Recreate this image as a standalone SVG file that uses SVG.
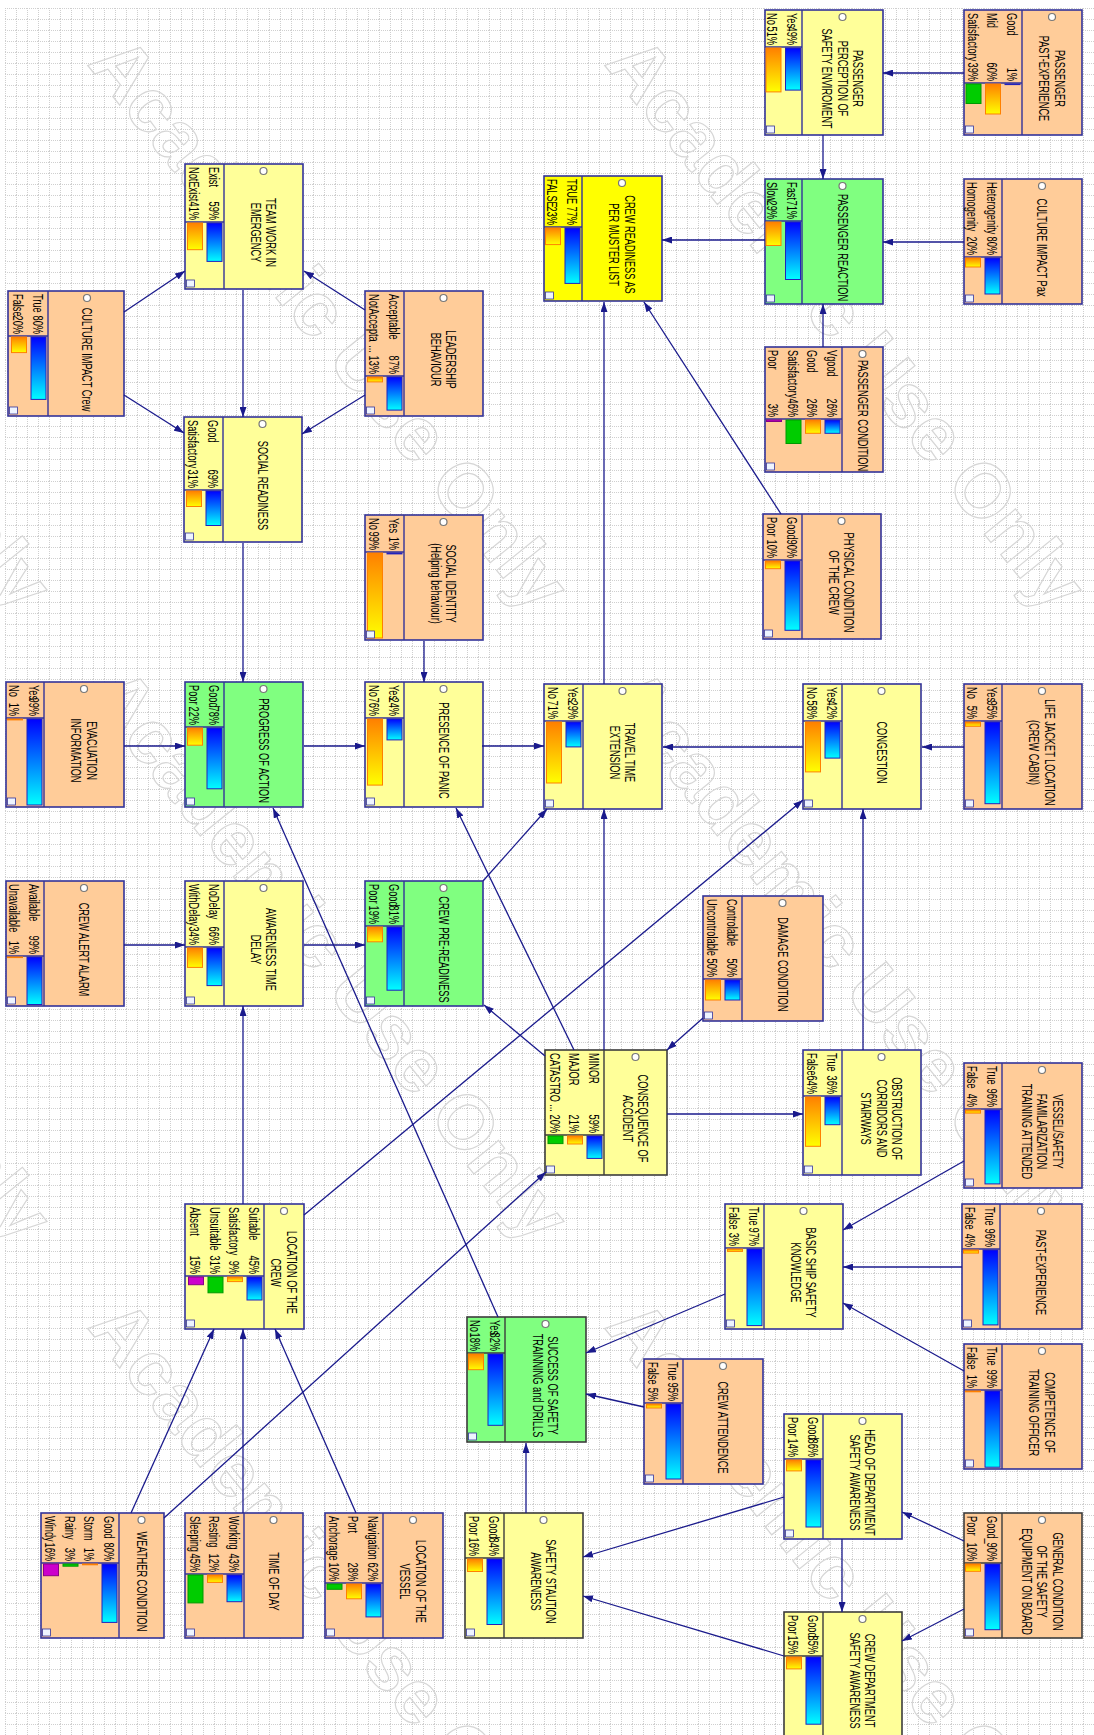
<svg xmlns="http://www.w3.org/2000/svg" width="1094" height="1735" viewBox="0 0 1094 1735">
<defs>
<style>
.box{stroke:#333399;stroke-width:1.6}
.dk{stroke:#3c3c3c}
.y{fill:#ffff99}.o{fill:#ffcc99}.g{fill:#80ff80}.b{fill:#ffff00}
.dv{fill:none;stroke:#333399;stroke-width:1.4}
.dvk{fill:none;stroke:#3c3c3c;stroke-width:1.4}
.t{font-family:"Liberation Sans",Arial,sans-serif;font-size:14px;fill:#000}
.m{text-anchor:middle}.e{text-anchor:end}
.pin{fill:#fff;stroke:#777;stroke-width:1.2}
.bb{fill:url(#gb);stroke:#2222bb;stroke-width:1}
.bo{fill:url(#go);stroke:#ff8000;stroke-width:1}
.bg{fill:#00cc00;stroke:#009900;stroke-width:1}
.bm{fill:#cc00cc;stroke:#880088;stroke-width:1}
.ic{fill:#eef4ff;stroke:#333399;stroke-width:.8}
.ed{fill:none;stroke:#1a1a8c;stroke-width:1.3;marker-end:url(#ah)}
.wm{font-family:"Liberation Sans",Arial,sans-serif;font-weight:bold;font-size:76px;fill:none;stroke:#d6d6d6;stroke-width:1.2}
</style>
<linearGradient id="gb" x1="0" y1="0" x2="0" y2="1"><stop offset="0" stop-color="#0000ff"/><stop offset="1" stop-color="#00ffff"/></linearGradient>
<linearGradient id="go" x1="0" y1="0" x2="0" y2="1"><stop offset="0" stop-color="#ff8000"/><stop offset="1" stop-color="#ffff00"/></linearGradient>
<pattern id="grid" x="5" y="8" width="11" height="11" patternUnits="userSpaceOnUse"><path d="M0,0.5H11M0.5,0V11" stroke="#cfcfcf" stroke-width="1" stroke-dasharray="1,1" fill="none"/></pattern>
<marker id="ah" viewBox="0 0 10 7" refX="10" refY="3.5" markerWidth="10" markerHeight="7" orient="auto" markerUnits="userSpaceOnUse"><path d="M0,0L10,3.5L0,7z" fill="#1a1a8c"/></marker>
</defs>
<rect width="1094" height="1735" fill="#fff"/>
<rect x="5" y="8" width="1089" height="1727" fill="url(#grid)"/>
<g id="watermark">
<text class="wm" transform="translate(-430.5 64)rotate(51)">Academic Use Only</text>
<text class="wm" transform="translate(86.5 64)rotate(51)">Academic Use Only</text>
<text class="wm" transform="translate(603.5 64)rotate(51)">Academic Use Only</text>
<text class="wm" transform="translate(-430.5 695.5)rotate(51)">Academic Use Only</text>
<text class="wm" transform="translate(86.5 695.5)rotate(51)">Academic Use Only</text>
<text class="wm" transform="translate(603.5 695.5)rotate(51)">Academic Use Only</text>
<text class="wm" transform="translate(-430.5 1327)rotate(51)">Academic Use Only</text>
<text class="wm" transform="translate(86.5 1327)rotate(51)">Academic Use Only</text>
<text class="wm" transform="translate(603.5 1327)rotate(51)">Academic Use Only</text>
</g>

<g id="teamwork" transform="translate(185 164)">
<rect class="box y" width="118" height="125"/><path class="dv" d="M39,0V125M0,58H39"/><circle class="pin" cx="78.5" cy="7" r="3.5"/>
<text class="t m" transform="translate(81.25 68.5)rotate(90)scale(.66 1)">TEAM WORK IN</text>
<text class="t m" transform="translate(65.75 68.5)rotate(90)scale(.66 1)">EMERGENCY</text>
<text class="t" transform="translate(23.5 3)rotate(90)scale(.66 1)">Exist</text><text class="t e" transform="translate(23.5 56)rotate(90)scale(.66 1)">59%</text>
<text class="t" transform="translate(4 3)rotate(90)scale(.66 1)">NotExist</text><text class="t e" transform="translate(4 56)rotate(90)scale(.66 1)">41%</text>
<rect class="bb" x="22" y="59" width="15" height="38.4"/><rect class="bo" x="2.5" y="59" width="15" height="26.7"/>
<rect class="ic" x="1.5" y="116" width="8" height="7"/>
</g>

<g id="cultcrew" transform="translate(8 291)">
<rect class="box o" width="116" height="125"/><path class="dv" d="M40,0V125M0,45H40"/><circle class="pin" cx="79" cy="7" r="3.5"/>
<text class="t m" transform="translate(74 68.5)rotate(90)scale(.66 1)">CULTURE IMPACT Crew</text>
<text class="t" transform="translate(24.5 3)rotate(90)scale(.66 1)">True</text><text class="t e" transform="translate(24.5 43)rotate(90)scale(.66 1)">80%</text>
<text class="t" transform="translate(5 3)rotate(90)scale(.66 1)">False</text><text class="t e" transform="translate(5 43)rotate(90)scale(.66 1)">20%</text>
<rect class="bb" x="23" y="46" width="15" height="62.4"/><rect class="bo" x="3.5" y="46" width="15" height="15.6"/>
<rect class="ic" x="1.5" y="116" width="8" height="7"/>
</g>

<g id="leader" transform="translate(365 291)">
<rect class="box o" width="118" height="125"/><path class="dv" d="M39,0V125M0,85H39"/><circle class="pin" cx="78.5" cy="7" r="3.5"/>
<text class="t m" transform="translate(81.25 68.5)rotate(90)scale(.66 1)">LEADERSHIP</text>
<text class="t m" transform="translate(65.75 68.5)rotate(90)scale(.66 1)">BEHAVIOUR</text>
<text class="t" transform="translate(23.5 3)rotate(90)scale(.66 1)">Acceptable</text><text class="t e" transform="translate(23.5 83)rotate(90)scale(.66 1)">87%</text>
<text class="t" transform="translate(4 3)rotate(90)scale(.66 1)">NotAccepta</text><text class="t e" transform="translate(4 83)rotate(90)scale(.66 1)">... 13%</text>
<rect class="bb" x="22" y="86" width="15" height="33.1"/><rect class="bo" x="2.5" y="86" width="15" height="4.9"/>
<rect class="ic" x="1.5" y="116" width="8" height="7"/>
</g>

<g id="socread" transform="translate(184 417)">
<rect class="box y" width="118" height="125"/><path class="dv" d="M39,0V125M0,73H39"/><circle class="pin" cx="78.5" cy="7" r="3.5"/>
<text class="t m" transform="translate(73.5 68.5)rotate(90)scale(.66 1)">SOCIAL READINESS</text>
<text class="t" transform="translate(23.5 3)rotate(90)scale(.66 1)">Good</text><text class="t e" transform="translate(23.5 71)rotate(90)scale(.66 1)">69%</text>
<text class="t" transform="translate(4 3)rotate(90)scale(.66 1)">Satisfactory</text><text class="t e" transform="translate(4 71)rotate(90)scale(.66 1)">31%</text>
<rect class="bb" x="22" y="74" width="15" height="34.5"/><rect class="bo" x="2.5" y="74" width="15" height="15.5"/>
<rect class="ic" x="1.5" y="116" width="8" height="7"/>
</g>

<g id="crewready" transform="translate(544 176)">
<rect class="box b" width="118" height="125"/><path class="dv" d="M38,0V125M0,51H38"/><circle class="pin" cx="78" cy="7" r="3.5"/>
<text class="t m" transform="translate(80.75 68.5)rotate(90)scale(.66 1)">CREW READINESS AS</text>
<text class="t m" transform="translate(65.25 68.5)rotate(90)scale(.66 1)">PER MUSTER LIST</text>
<text class="t" transform="translate(22.5 3)rotate(90)scale(.66 1)">TRUE</text><text class="t e" transform="translate(22.5 49)rotate(90)scale(.66 1)">77%</text>
<text class="t" transform="translate(3 3)rotate(90)scale(.66 1)">FALSE</text><text class="t e" transform="translate(3 49)rotate(90)scale(.66 1)">23%</text>
<rect class="bb" x="21" y="52" width="15" height="55.4"/><rect class="bo" x="1.5" y="52" width="15" height="16.6"/>
<rect class="ic" x="1.5" y="116" width="8" height="7"/>
</g>

<g id="paxperc" transform="translate(765 10)">
<rect class="box y" width="118" height="125"/><path class="dv" d="M37,0V125M0,37H37"/><circle class="pin" cx="77.5" cy="7" r="3.5"/>
<text class="t m" transform="translate(88 68.5)rotate(90)scale(.66 1)">PASSENGER</text>
<text class="t m" transform="translate(72.5 68.5)rotate(90)scale(.66 1)">PERCEPTION OF</text>
<text class="t m" transform="translate(57 68.5)rotate(90)scale(.66 1)">SAFETY ENVIROMENT</text>
<text class="t" transform="translate(21.5 3)rotate(90)scale(.66 1)">Yes</text><text class="t e" transform="translate(21.5 35)rotate(90)scale(.66 1)">49%</text>
<text class="t" transform="translate(2 3)rotate(90)scale(.66 1)">No</text><text class="t e" transform="translate(2 35)rotate(90)scale(.66 1)">51%</text>
<rect class="bb" x="20.5" y="38" width="15" height="42.1"/><rect class="bo" x="1" y="38" width="15" height="43.9"/>
<rect class="ic" x="1.5" y="116" width="8" height="7"/>
</g>

<g id="paxpast" transform="translate(964 10)">
<rect class="box o" width="118" height="125"/><path class="dv" d="M58,0V125M0,73H58"/><circle class="pin" cx="88" cy="7" r="3.5"/>
<text class="t m" transform="translate(90.75 68.5)rotate(90)scale(.66 1)">PASSENGER</text>
<text class="t m" transform="translate(75.25 68.5)rotate(90)scale(.66 1)">PAST-EXPERIENCE</text>
<text class="t" transform="translate(42.5 3)rotate(90)scale(.66 1)">Good</text><text class="t e" transform="translate(42.5 71)rotate(90)scale(.66 1)">1%</text>
<text class="t" transform="translate(23 3)rotate(90)scale(.66 1)">Mid</text><text class="t e" transform="translate(23 71)rotate(90)scale(.66 1)">60%</text>
<text class="t" transform="translate(3.5 3)rotate(90)scale(.66 1)">Satisfactory</text><text class="t e" transform="translate(3.5 71)rotate(90)scale(.66 1)">39%</text>
<rect class="bb" x="41" y="74" width="15" height="0.6"/><rect class="bo" x="21.5" y="74" width="15" height="30"/><rect class="bg" x="2" y="74" width="15" height="19.5"/>
<rect class="ic" x="1.5" y="116" width="8" height="7"/>
</g>

<g id="paxreact" transform="translate(765 179)">
<rect class="box g" width="118" height="125"/><path class="dv" d="M37,0V125M0,42H37"/><circle class="pin" cx="77.5" cy="7" r="3.5"/>
<text class="t m" transform="translate(72.5 68.5)rotate(90)scale(.66 1)">PASSENGER REACTION</text>
<text class="t" transform="translate(21.5 3)rotate(90)scale(.66 1)">Fast</text><text class="t e" transform="translate(21.5 40)rotate(90)scale(.66 1)">71%</text>
<text class="t" transform="translate(2 3)rotate(90)scale(.66 1)">Slow</text><text class="t e" transform="translate(2 40)rotate(90)scale(.66 1)">29%</text>
<rect class="bb" x="20.5" y="43" width="15" height="57.5"/><rect class="bo" x="1" y="43" width="15" height="23.5"/>
<rect class="ic" x="1.5" y="116" width="8" height="7"/>
</g>

<g id="cultpax" transform="translate(964 179)">
<rect class="box o" width="118" height="125"/><path class="dv" d="M38,0V125M0,78H38"/><circle class="pin" cx="78" cy="7" r="3.5"/>
<text class="t m" transform="translate(73 68.5)rotate(90)scale(.66 1)">CULTURE IMPACT Pax</text>
<text class="t" transform="translate(22.5 3)rotate(90)scale(.66 1)">Heterogenity</text><text class="t e" transform="translate(22.5 76)rotate(90)scale(.66 1)">80%</text>
<text class="t" transform="translate(3 3)rotate(90)scale(.66 1)">Homogenity</text><text class="t e" transform="translate(3 76)rotate(90)scale(.66 1)">20%</text>
<rect class="bb" x="21" y="79" width="15" height="36"/><rect class="bo" x="1.5" y="79" width="15" height="9"/>
<rect class="ic" x="1.5" y="116" width="8" height="7"/>
</g>

<g id="paxcond" transform="translate(765 347)">
<rect class="box o" width="118" height="125"/><path class="dv" d="M77,0V125M0,72H77"/><circle class="pin" cx="97.5" cy="7" r="3.5"/>
<text class="t m" transform="translate(92.5 68.5)rotate(90)scale(.66 1)">PASSENGER CONDITION</text>
<text class="t" transform="translate(61.5 3)rotate(90)scale(.66 1)">Vgood</text><text class="t e" transform="translate(61.5 70)rotate(90)scale(.66 1)">26%</text>
<text class="t" transform="translate(42 3)rotate(90)scale(.66 1)">Good</text><text class="t e" transform="translate(42 70)rotate(90)scale(.66 1)">26%</text>
<text class="t" transform="translate(22.5 3)rotate(90)scale(.66 1)">Satisfactory</text><text class="t e" transform="translate(22.5 70)rotate(90)scale(.66 1)">46%</text>
<text class="t" transform="translate(3 3)rotate(90)scale(.66 1)">Poor</text><text class="t e" transform="translate(3 70)rotate(90)scale(.66 1)">3%</text>
<rect class="bb" x="60" y="73" width="15" height="13.3"/><rect class="bo" x="40.5" y="73" width="15" height="13.3"/><rect class="bg" x="21" y="73" width="15" height="23.5"/><rect class="bm" x="1.5" y="73" width="15" height="1.5"/>
<rect class="ic" x="1.5" y="116" width="8" height="7"/>
</g>

<g id="physcond" transform="translate(763 514)">
<rect class="box o" width="118" height="125"/><path class="dv" d="M39,0V125M0,46H39"/><circle class="pin" cx="78.5" cy="7" r="3.5"/>
<text class="t m" transform="translate(81.25 68.5)rotate(90)scale(.66 1)">PHYSICAL CONDITION</text>
<text class="t m" transform="translate(65.75 68.5)rotate(90)scale(.66 1)">OF THE CREW</text>
<text class="t" transform="translate(23.5 3)rotate(90)scale(.66 1)">Good</text><text class="t e" transform="translate(23.5 44)rotate(90)scale(.66 1)">90%</text>
<text class="t" transform="translate(4 3)rotate(90)scale(.66 1)">Poor</text><text class="t e" transform="translate(4 44)rotate(90)scale(.66 1)">10%</text>
<rect class="bb" x="22" y="47" width="15" height="69.3"/><rect class="bo" x="2.5" y="47" width="15" height="7.7"/>
<rect class="ic" x="1.5" y="116" width="8" height="7"/>
</g>

<g id="socid" transform="translate(365 515)">
<rect class="box o" width="118" height="125"/><path class="dv" d="M39,0V125M0,37H39"/><circle class="pin" cx="78.5" cy="7" r="3.5"/>
<text class="t m" transform="translate(81.25 68.5)rotate(90)scale(.66 1)">SOCIAL IDENTITY</text>
<text class="t m" transform="translate(65.75 68.5)rotate(90)scale(.66 1)">(Helping behaviour)</text>
<text class="t" transform="translate(23.5 3)rotate(90)scale(.66 1)">Yes</text><text class="t e" transform="translate(23.5 35)rotate(90)scale(.66 1)">1%</text>
<text class="t" transform="translate(4 3)rotate(90)scale(.66 1)">No</text><text class="t e" transform="translate(4 35)rotate(90)scale(.66 1)">99%</text>
<rect class="bb" x="22" y="38" width="15" height="0.9"/><rect class="bo" x="2.5" y="38" width="15" height="85"/>
<rect class="ic" x="1.5" y="116" width="8" height="7"/>
</g>

<g id="evac" transform="translate(6 682)">
<rect class="box o" width="118" height="125"/><path class="dv" d="M38,0V125M0,36H38"/><circle class="pin" cx="78" cy="7" r="3.5"/>
<text class="t m" transform="translate(80.75 68.5)rotate(90)scale(.66 1)">EVACUATION</text>
<text class="t m" transform="translate(65.25 68.5)rotate(90)scale(.66 1)">INFORMATION</text>
<text class="t" transform="translate(22.5 3)rotate(90)scale(.66 1)">Yes</text><text class="t e" transform="translate(22.5 34)rotate(90)scale(.66 1)">99%</text>
<text class="t" transform="translate(3 3)rotate(90)scale(.66 1)">No</text><text class="t e" transform="translate(3 34)rotate(90)scale(.66 1)">1%</text>
<rect class="bb" x="21" y="37" width="15" height="86"/><rect class="bo" x="1.5" y="37" width="15" height="0.9"/>
<rect class="ic" x="1.5" y="116" width="8" height="7"/>
</g>

<g id="progress" transform="translate(185 682)">
<rect class="box g" width="118" height="125"/><path class="dv" d="M39,0V125M0,45H39"/><circle class="pin" cx="78.5" cy="7" r="3.5"/>
<text class="t m" transform="translate(73.5 68.5)rotate(90)scale(.66 1)">PROGRESS OF ACTION</text>
<text class="t" transform="translate(23.5 3)rotate(90)scale(.66 1)">Good</text><text class="t e" transform="translate(23.5 43)rotate(90)scale(.66 1)">78%</text>
<text class="t" transform="translate(4 3)rotate(90)scale(.66 1)">Poor</text><text class="t e" transform="translate(4 43)rotate(90)scale(.66 1)">22%</text>
<rect class="bb" x="22" y="46" width="15" height="60.8"/><rect class="bo" x="2.5" y="46" width="15" height="17.2"/>
<rect class="ic" x="1.5" y="116" width="8" height="7"/>
</g>

<g id="panic" transform="translate(365 682)">
<rect class="box y" width="118" height="125"/><path class="dv" d="M39,0V125M0,36H39"/><circle class="pin" cx="78.5" cy="7" r="3.5"/>
<text class="t m" transform="translate(73.5 68.5)rotate(90)scale(.66 1)">PRESENCE OF PANIC</text>
<text class="t" transform="translate(23.5 3)rotate(90)scale(.66 1)">Yes</text><text class="t e" transform="translate(23.5 34)rotate(90)scale(.66 1)">24%</text>
<text class="t" transform="translate(4 3)rotate(90)scale(.66 1)">No</text><text class="t e" transform="translate(4 34)rotate(90)scale(.66 1)">76%</text>
<rect class="bb" x="22" y="37" width="15" height="20.9"/><rect class="bo" x="2.5" y="37" width="15" height="66.1"/>
<rect class="ic" x="1.5" y="116" width="8" height="7"/>
</g>

<g id="travel" transform="translate(544 684)">
<rect class="box y" width="118" height="125"/><path class="dv" d="M39,0V125M0,37H39"/><circle class="pin" cx="78.5" cy="7" r="3.5"/>
<text class="t m" transform="translate(81.25 68.5)rotate(90)scale(.66 1)">TRAVEL TIME</text>
<text class="t m" transform="translate(65.75 68.5)rotate(90)scale(.66 1)">EXTENSION</text>
<text class="t" transform="translate(23.5 3)rotate(90)scale(.66 1)">Yes</text><text class="t e" transform="translate(23.5 35)rotate(90)scale(.66 1)">29%</text>
<text class="t" transform="translate(4 3)rotate(90)scale(.66 1)">No</text><text class="t e" transform="translate(4 35)rotate(90)scale(.66 1)">71%</text>
<rect class="bb" x="22" y="38" width="15" height="24.9"/><rect class="bo" x="2.5" y="38" width="15" height="61"/>
<rect class="ic" x="1.5" y="116" width="8" height="7"/>
</g>

<g id="congest" transform="translate(803 684)">
<rect class="box y" width="118" height="125"/><path class="dv" d="M39,0V125M0,37H39"/><circle class="pin" cx="78.5" cy="7" r="3.5"/>
<text class="t m" transform="translate(73.5 68.5)rotate(90)scale(.66 1)">CONGESTION</text>
<text class="t" transform="translate(23.5 3)rotate(90)scale(.66 1)">Yes</text><text class="t e" transform="translate(23.5 35)rotate(90)scale(.66 1)">42%</text>
<text class="t" transform="translate(4 3)rotate(90)scale(.66 1)">No</text><text class="t e" transform="translate(4 35)rotate(90)scale(.66 1)">58%</text>
<rect class="bb" x="22" y="38" width="15" height="36.1"/><rect class="bo" x="2.5" y="38" width="15" height="49.9"/>
<rect class="ic" x="1.5" y="116" width="8" height="7"/>
</g>

<g id="lifejacket" transform="translate(964 684)">
<rect class="box o" width="118" height="125"/><path class="dv" d="M38,0V125M0,37H38"/><circle class="pin" cx="78" cy="7" r="3.5"/>
<text class="t m" transform="translate(80.75 68.5)rotate(90)scale(.66 1)">LIFE JACKET LOCATION</text>
<text class="t m" transform="translate(65.25 68.5)rotate(90)scale(.66 1)">(CREW CABIN)</text>
<text class="t" transform="translate(22.5 3)rotate(90)scale(.66 1)">Yes</text><text class="t e" transform="translate(22.5 35)rotate(90)scale(.66 1)">95%</text>
<text class="t" transform="translate(3 3)rotate(90)scale(.66 1)">No</text><text class="t e" transform="translate(3 35)rotate(90)scale(.66 1)">5%</text>
<rect class="bb" x="21" y="38" width="15" height="81.7"/><rect class="bo" x="1.5" y="38" width="15" height="4.3"/>
<rect class="ic" x="1.5" y="116" width="8" height="7"/>
</g>

<g id="alarm" transform="translate(6 881)">
<rect class="box o" width="118" height="125"/><path class="dv" d="M38,0V125M0,75H38"/><circle class="pin" cx="78" cy="7" r="3.5"/>
<text class="t m" transform="translate(73 68.5)rotate(90)scale(.66 1)">CREW ALERT ALARM</text>
<text class="t" transform="translate(22.5 3)rotate(90)scale(.66 1)">Available</text><text class="t e" transform="translate(22.5 73)rotate(90)scale(.66 1)">99%</text>
<text class="t" transform="translate(3 3)rotate(90)scale(.66 1)">Unavailable</text><text class="t e" transform="translate(3 73)rotate(90)scale(.66 1)">1%</text>
<rect class="bb" x="21" y="76" width="15" height="47.5"/><rect class="bo" x="1.5" y="76" width="15" height="0.6"/>
<rect class="ic" x="1.5" y="116" width="8" height="7"/>
</g>

<g id="awareness" transform="translate(185 881)">
<rect class="box y" width="118" height="125"/><path class="dv" d="M39,0V125M0,66H39"/><circle class="pin" cx="78.5" cy="7" r="3.5"/>
<text class="t m" transform="translate(81.25 68.5)rotate(90)scale(.66 1)">AWARENESS TIME</text>
<text class="t m" transform="translate(65.75 68.5)rotate(90)scale(.66 1)">DELAY</text>
<text class="t" transform="translate(23.5 3)rotate(90)scale(.66 1)">NoDelay</text><text class="t e" transform="translate(23.5 64)rotate(90)scale(.66 1)">66%</text>
<text class="t" transform="translate(4 3)rotate(90)scale(.66 1)">WithDelay</text><text class="t e" transform="translate(4 64)rotate(90)scale(.66 1)">34%</text>
<rect class="bb" x="22" y="67" width="15" height="37.6"/><rect class="bo" x="2.5" y="67" width="15" height="19.4"/>
<rect class="ic" x="1.5" y="116" width="8" height="7"/>
</g>

<g id="preready" transform="translate(365 881)">
<rect class="box g" width="118" height="125"/><path class="dv" d="M39,0V125M0,45H39"/><circle class="pin" cx="78.5" cy="7" r="3.5"/>
<text class="t m" transform="translate(73.5 68.5)rotate(90)scale(.66 1)">CREW PRE-READINESS</text>
<text class="t" transform="translate(23.5 3)rotate(90)scale(.66 1)">Good</text><text class="t e" transform="translate(23.5 43)rotate(90)scale(.66 1)">81%</text>
<text class="t" transform="translate(4 3)rotate(90)scale(.66 1)">Poor</text><text class="t e" transform="translate(4 43)rotate(90)scale(.66 1)">19%</text>
<rect class="bb" x="22" y="46" width="15" height="63.2"/><rect class="bo" x="2.5" y="46" width="15" height="14.8"/>
<rect class="ic" x="1.5" y="116" width="8" height="7"/>
</g>

<g id="damage" transform="translate(703 896)">
<rect class="box o" width="120" height="125"/><path class="dv" d="M39,0V125M0,83H39"/><circle class="pin" cx="79.5" cy="7" r="3.5"/>
<text class="t m" transform="translate(74.5 68.5)rotate(90)scale(.66 1)">DAMAGE CONDITION</text>
<text class="t" transform="translate(23.5 3)rotate(90)scale(.66 1)">Controlable</text><text class="t e" transform="translate(23.5 81)rotate(90)scale(.66 1)">50%</text>
<text class="t" transform="translate(4 3)rotate(90)scale(.66 1)">Uncontrolable</text><text class="t e" transform="translate(4 81)rotate(90)scale(.66 1)">50%</text>
<rect class="bb" x="22" y="84" width="15" height="20"/><rect class="bo" x="2.5" y="84" width="15" height="20"/>
<rect class="ic" x="1.5" y="116" width="8" height="7"/>
</g>

<g id="consequence" transform="translate(545 1050)">
<rect class="box y dk" width="122" height="125"/><path class="dvk" d="M59,0V125M0,85H59"/><circle class="pin" cx="90.5" cy="7" r="3.5"/>
<text class="t m" transform="translate(93.25 68.5)rotate(90)scale(.66 1)">CONSEQUENCE OF</text>
<text class="t m" transform="translate(77.75 68.5)rotate(90)scale(.66 1)">ACCIDENT</text>
<text class="t" transform="translate(43.5 3)rotate(90)scale(.66 1)">MINOR</text><text class="t e" transform="translate(43.5 83)rotate(90)scale(.66 1)">59%</text>
<text class="t" transform="translate(24 3)rotate(90)scale(.66 1)">MAJOR</text><text class="t e" transform="translate(24 83)rotate(90)scale(.66 1)">21%</text>
<text class="t" transform="translate(4.5 3)rotate(90)scale(.66 1)">CATASTRO</text><text class="t e" transform="translate(4.5 83)rotate(90)scale(.66 1)">... 20%</text>
<rect class="bb" x="42" y="86" width="15" height="22.4"/><rect class="bo" x="22.5" y="86" width="15" height="8"/><rect class="bg" x="3" y="86" width="15" height="7.6"/>
<rect class="ic" x="1.5" y="116" width="8" height="7"/>
</g>

<g id="obstruct" transform="translate(803 1050)">
<rect class="box y" width="118" height="125"/><path class="dv" d="M39,0V125M0,46H39"/><circle class="pin" cx="78.5" cy="7" r="3.5"/>
<text class="t m" transform="translate(89 68.5)rotate(90)scale(.66 1)">OBSTRUCTION OF</text>
<text class="t m" transform="translate(73.5 68.5)rotate(90)scale(.66 1)">CORRIDORS AND</text>
<text class="t m" transform="translate(58 68.5)rotate(90)scale(.66 1)">STAIRWAYS</text>
<text class="t" transform="translate(23.5 3)rotate(90)scale(.66 1)">True</text><text class="t e" transform="translate(23.5 44)rotate(90)scale(.66 1)">36%</text>
<text class="t" transform="translate(4 3)rotate(90)scale(.66 1)">False</text><text class="t e" transform="translate(4 44)rotate(90)scale(.66 1)">64%</text>
<rect class="bb" x="22" y="47" width="15" height="27.7"/><rect class="bo" x="2.5" y="47" width="15" height="49.3"/>
<rect class="ic" x="1.5" y="116" width="8" height="7"/>
</g>

<g id="loccrew" transform="translate(185 1204)">
<rect class="box y" width="119" height="125"/><path class="dv" d="M79,0V125M0,72H79"/><circle class="pin" cx="99" cy="7" r="3.5"/>
<text class="t m" transform="translate(101.75 68.5)rotate(90)scale(.66 1)">LOCATION OF THE</text>
<text class="t m" transform="translate(86.25 68.5)rotate(90)scale(.66 1)">CREW</text>
<text class="t" transform="translate(63.5 3)rotate(90)scale(.66 1)">Suitable</text><text class="t e" transform="translate(63.5 70)rotate(90)scale(.66 1)">45%</text>
<text class="t" transform="translate(44 3)rotate(90)scale(.66 1)">Satisfactory</text><text class="t e" transform="translate(44 70)rotate(90)scale(.66 1)">9%</text>
<text class="t" transform="translate(24.5 3)rotate(90)scale(.66 1)">Unsuitable</text><text class="t e" transform="translate(24.5 70)rotate(90)scale(.66 1)">31%</text>
<text class="t" transform="translate(5 3)rotate(90)scale(.66 1)">Absent</text><text class="t e" transform="translate(5 70)rotate(90)scale(.66 1)">15%</text>
<rect class="bb" x="62" y="73" width="15" height="23"/><rect class="bo" x="42.5" y="73" width="15" height="4.6"/><rect class="bg" x="23" y="73" width="15" height="15.8"/><rect class="bm" x="3.5" y="73" width="15" height="7.7"/>
<rect class="ic" x="1.5" y="116" width="8" height="7"/>
</g>

<g id="vessfam" transform="translate(964 1063)">
<rect class="box o" width="118" height="125"/><path class="dv" d="M38,0V125M0,46H38"/><circle class="pin" cx="78" cy="7" r="3.5"/>
<text class="t m" transform="translate(88.5 68.5)rotate(90)scale(.66 1)">VESSEL/SAFETY</text>
<text class="t m" transform="translate(73 68.5)rotate(90)scale(.66 1)">FAMILARIZATION</text>
<text class="t m" transform="translate(57.5 68.5)rotate(90)scale(.66 1)">TRAINING ATTENDED</text>
<text class="t" transform="translate(22.5 3)rotate(90)scale(.66 1)">True</text><text class="t e" transform="translate(22.5 44)rotate(90)scale(.66 1)">96%</text>
<text class="t" transform="translate(3 3)rotate(90)scale(.66 1)">False</text><text class="t e" transform="translate(3 44)rotate(90)scale(.66 1)">4%</text>
<rect class="bb" x="21" y="47" width="15" height="73.9"/><rect class="bo" x="1.5" y="47" width="15" height="3.1"/>
<rect class="ic" x="1.5" y="116" width="8" height="7"/>
</g>

<g id="basic" transform="translate(725 1204)">
<rect class="box y" width="118" height="125"/><path class="dv" d="M39,0V125M0,44H39"/><circle class="pin" cx="78.5" cy="7" r="3.5"/>
<text class="t m" transform="translate(81.25 68.5)rotate(90)scale(.66 1)">BASIC SHIP SAFETY</text>
<text class="t m" transform="translate(65.75 68.5)rotate(90)scale(.66 1)">KNOWLEDGE</text>
<text class="t" transform="translate(23.5 3)rotate(90)scale(.66 1)">True</text><text class="t e" transform="translate(23.5 42)rotate(90)scale(.66 1)">97%</text>
<text class="t" transform="translate(4 3)rotate(90)scale(.66 1)">False</text><text class="t e" transform="translate(4 42)rotate(90)scale(.66 1)">3%</text>
<rect class="bb" x="22" y="45" width="15" height="76.6"/><rect class="bo" x="2.5" y="45" width="15" height="2.4"/>
<rect class="ic" x="1.5" y="116" width="8" height="7"/>
</g>

<g id="pastexp" transform="translate(962 1204)">
<rect class="box o" width="120" height="125"/><path class="dv" d="M38,0V125M0,45H38"/><circle class="pin" cx="79" cy="7" r="3.5"/>
<text class="t m" transform="translate(74 68.5)rotate(90)scale(.66 1)">PAST-EXPERIENCE</text>
<text class="t" transform="translate(22.5 3)rotate(90)scale(.66 1)">True</text><text class="t e" transform="translate(22.5 43)rotate(90)scale(.66 1)">96%</text>
<text class="t" transform="translate(3 3)rotate(90)scale(.66 1)">False</text><text class="t e" transform="translate(3 43)rotate(90)scale(.66 1)">4%</text>
<rect class="bb" x="21" y="46" width="15" height="74.9"/><rect class="bo" x="1.5" y="46" width="15" height="3.1"/>
<rect class="ic" x="1.5" y="116" width="8" height="7"/>
</g>

<g id="competence" transform="translate(964 1344)">
<rect class="box o" width="118" height="125"/><path class="dv" d="M38,0V125M0,46H38"/><circle class="pin" cx="78" cy="7" r="3.5"/>
<text class="t m" transform="translate(80.75 68.5)rotate(90)scale(.66 1)">COMPETENCE OF</text>
<text class="t m" transform="translate(65.25 68.5)rotate(90)scale(.66 1)">TRAINING OFFICER</text>
<text class="t" transform="translate(22.5 3)rotate(90)scale(.66 1)">True</text><text class="t e" transform="translate(22.5 44)rotate(90)scale(.66 1)">99%</text>
<text class="t" transform="translate(3 3)rotate(90)scale(.66 1)">False</text><text class="t e" transform="translate(3 44)rotate(90)scale(.66 1)">1%</text>
<rect class="bb" x="21" y="47" width="15" height="76.2"/><rect class="bo" x="1.5" y="47" width="15" height="0.8"/>
<rect class="ic" x="1.5" y="116" width="8" height="7"/>
</g>

<g id="success" transform="translate(467 1317)">
<rect class="box g dk" width="119" height="125"/><path class="dvk" d="M38,0V125M0,36H38"/><circle class="pin" cx="78.5" cy="7" r="3.5"/>
<text class="t m" transform="translate(81.25 68.5)rotate(90)scale(.66 1)">SUCCESS OF SAFETY</text>
<text class="t m" transform="translate(65.75 68.5)rotate(90)scale(.66 1)">TRAINNING and DRILLS</text>
<text class="t" transform="translate(22.5 3)rotate(90)scale(.66 1)">Yes</text><text class="t e" transform="translate(22.5 34)rotate(90)scale(.66 1)">82%</text>
<text class="t" transform="translate(3 3)rotate(90)scale(.66 1)">No</text><text class="t e" transform="translate(3 34)rotate(90)scale(.66 1)">18%</text>
<rect class="bb" x="21" y="37" width="15" height="71.3"/><rect class="bo" x="1.5" y="37" width="15" height="15.7"/>
<rect class="ic" x="1.5" y="116" width="8" height="7"/>
</g>

<g id="attend" transform="translate(644 1359)">
<rect class="box o" width="119" height="125"/><path class="dv" d="M39,0V125M0,44H39"/><circle class="pin" cx="79" cy="7" r="3.5"/>
<text class="t m" transform="translate(74 68.5)rotate(90)scale(.66 1)">CREW ATTENDENCE</text>
<text class="t" transform="translate(23.5 3)rotate(90)scale(.66 1)">True</text><text class="t e" transform="translate(23.5 42)rotate(90)scale(.66 1)">95%</text>
<text class="t" transform="translate(4 3)rotate(90)scale(.66 1)">False</text><text class="t e" transform="translate(4 42)rotate(90)scale(.66 1)">5%</text>
<rect class="bb" x="22" y="45" width="15" height="75"/><rect class="bo" x="2.5" y="45" width="15" height="4"/>
<rect class="ic" x="1.5" y="116" width="8" height="7"/>
</g>

<g id="headdept" transform="translate(784 1414)">
<rect class="box y" width="118" height="125"/><path class="dv" d="M39,0V125M0,45H39"/><circle class="pin" cx="78.5" cy="7" r="3.5"/>
<text class="t m" transform="translate(81.25 68.5)rotate(90)scale(.66 1)">HEAD OF DEPARTMENT</text>
<text class="t m" transform="translate(65.75 68.5)rotate(90)scale(.66 1)">SAFETY AWARENESS</text>
<text class="t" transform="translate(23.5 3)rotate(90)scale(.66 1)">Good</text><text class="t e" transform="translate(23.5 43)rotate(90)scale(.66 1)">86%</text>
<text class="t" transform="translate(4 3)rotate(90)scale(.66 1)">Poor</text><text class="t e" transform="translate(4 43)rotate(90)scale(.66 1)">14%</text>
<rect class="bb" x="22" y="46" width="15" height="67"/><rect class="bo" x="2.5" y="46" width="15" height="10.9"/>
<rect class="ic" x="1.5" y="116" width="8" height="7"/>
</g>

<g id="general" transform="translate(964 1513)">
<rect class="box o dk" width="118" height="125"/><path class="dvk" d="M38,0V125M0,50H38"/><circle class="pin" cx="78" cy="7" r="3.5"/>
<text class="t m" transform="translate(88.5 68.5)rotate(90)scale(.66 1)">GENERAL CONDITION</text>
<text class="t m" transform="translate(73 68.5)rotate(90)scale(.66 1)">OF THE SAFETY</text>
<text class="t m" transform="translate(57.5 68.5)rotate(90)scale(.66 1)">EQUIPMENT ON BOARD</text>
<text class="t" transform="translate(22.5 3)rotate(90)scale(.66 1)">Good_</text><text class="t e" transform="translate(22.5 48)rotate(90)scale(.66 1)">90%</text>
<text class="t" transform="translate(3 3)rotate(90)scale(.66 1)">Poor</text><text class="t e" transform="translate(3 48)rotate(90)scale(.66 1)">10%</text>
<rect class="bb" x="21" y="51" width="15" height="65.7"/><rect class="bo" x="1.5" y="51" width="15" height="7.3"/>
<rect class="ic" x="1.5" y="116" width="8" height="7"/>
</g>

<g id="sitaware" transform="translate(465 1513)">
<rect class="box y dk" width="118" height="125"/><path class="dvk" d="M39,0V125M0,45H39"/><circle class="pin" cx="78.5" cy="7" r="3.5"/>
<text class="t m" transform="translate(81.25 68.5)rotate(90)scale(.66 1)">SAFETY STAUTION</text>
<text class="t m" transform="translate(65.75 68.5)rotate(90)scale(.66 1)">AWARENESS</text>
<text class="t" transform="translate(23.5 3)rotate(90)scale(.66 1)">Good</text><text class="t e" transform="translate(23.5 43)rotate(90)scale(.66 1)">84%</text>
<text class="t" transform="translate(4 3)rotate(90)scale(.66 1)">Poor</text><text class="t e" transform="translate(4 43)rotate(90)scale(.66 1)">16%</text>
<rect class="bb" x="22" y="46" width="15" height="65.5"/><rect class="bo" x="2.5" y="46" width="15" height="12.5"/>
<rect class="ic" x="1.5" y="116" width="8" height="7"/>
</g>

<g id="crewdept" transform="translate(784 1612)">
<rect class="box y dk" width="118" height="125"/><path class="dvk" d="M39,0V125M0,44H39"/><circle class="pin" cx="78.5" cy="7" r="3.5"/>
<text class="t m" transform="translate(81.25 68.5)rotate(90)scale(.66 1)">CREW DEPARTMENT</text>
<text class="t m" transform="translate(65.75 68.5)rotate(90)scale(.66 1)">SAFETY AWARENESS</text>
<text class="t" transform="translate(23.5 3)rotate(90)scale(.66 1)">Good</text><text class="t e" transform="translate(23.5 42)rotate(90)scale(.66 1)">85%</text>
<text class="t" transform="translate(4 3)rotate(90)scale(.66 1)">Poor</text><text class="t e" transform="translate(4 42)rotate(90)scale(.66 1)">15%</text>
<rect class="bb" x="22" y="45" width="15" height="67.2"/><rect class="bo" x="2.5" y="45" width="15" height="11.9"/>
</g>

<g id="weather" transform="translate(41 1513)">
<rect class="box o" width="123" height="125"/><path class="dv" d="M78,0V125M0,50H78"/><circle class="pin" cx="100.5" cy="7" r="3.5"/>
<text class="t m" transform="translate(95.5 68.5)rotate(90)scale(.66 1)">WEATHER CONDITION</text>
<text class="t" transform="translate(62.5 3)rotate(90)scale(.66 1)">Good</text><text class="t e" transform="translate(62.5 48)rotate(90)scale(.66 1)">80%</text>
<text class="t" transform="translate(43 3)rotate(90)scale(.66 1)">Storm</text><text class="t e" transform="translate(43 48)rotate(90)scale(.66 1)">1%</text>
<text class="t" transform="translate(23.5 3)rotate(90)scale(.66 1)">Rainy</text><text class="t e" transform="translate(23.5 48)rotate(90)scale(.66 1)">3%</text>
<text class="t" transform="translate(4 3)rotate(90)scale(.66 1)">Windy</text><text class="t e" transform="translate(4 48)rotate(90)scale(.66 1)">16%</text>
<rect class="bb" x="61" y="51" width="15" height="58.4"/><rect class="bo" x="41.5" y="51" width="15" height="0.8"/><rect class="bg" x="22" y="51" width="15" height="2.2"/><rect class="bm" x="2.5" y="51" width="15" height="11.7"/>
<rect class="ic" x="1.5" y="116" width="8" height="7"/>
</g>

<g id="timeofday" transform="translate(185 1513)">
<rect class="box o" width="118" height="125"/><path class="dv" d="M59,0V125M0,61H59"/><circle class="pin" cx="88.5" cy="7" r="3.5"/>
<text class="t m" transform="translate(83.5 68.5)rotate(90)scale(.66 1)">TIME OF DAY</text>
<text class="t" transform="translate(43.5 3)rotate(90)scale(.66 1)">Working</text><text class="t e" transform="translate(43.5 59)rotate(90)scale(.66 1)">43%</text>
<text class="t" transform="translate(24 3)rotate(90)scale(.66 1)">Resting</text><text class="t e" transform="translate(24 59)rotate(90)scale(.66 1)">12%</text>
<text class="t" transform="translate(4.5 3)rotate(90)scale(.66 1)">Sleeping</text><text class="t e" transform="translate(4.5 59)rotate(90)scale(.66 1)">45%</text>
<rect class="bb" x="42" y="62" width="15" height="26.7"/><rect class="bo" x="22.5" y="62" width="15" height="7.4"/><rect class="bg" x="3" y="62" width="15" height="27.9"/>
<rect class="ic" x="1.5" y="116" width="8" height="7"/>
</g>

<g id="locvessel" transform="translate(325 1513)">
<rect class="box o" width="118" height="125"/><path class="dv" d="M58,0V125M0,70H58"/><circle class="pin" cx="88" cy="7" r="3.5"/>
<text class="t m" transform="translate(90.75 68.5)rotate(90)scale(.66 1)">LOCATION OF THE</text>
<text class="t m" transform="translate(75.25 68.5)rotate(90)scale(.66 1)">VESSEL</text>
<text class="t" transform="translate(42.5 3)rotate(90)scale(.66 1)">Navigation</text><text class="t e" transform="translate(42.5 68)rotate(90)scale(.66 1)">62%</text>
<text class="t" transform="translate(23 3)rotate(90)scale(.66 1)">Port</text><text class="t e" transform="translate(23 68)rotate(90)scale(.66 1)">28%</text>
<text class="t" transform="translate(3.5 3)rotate(90)scale(.66 1)">Anchorage</text><text class="t e" transform="translate(3.5 68)rotate(90)scale(.66 1)">10%</text>
<rect class="bb" x="41" y="71" width="15" height="32.9"/><rect class="bo" x="21.5" y="71" width="15" height="14.8"/><rect class="bg" x="2" y="71" width="15" height="5.3"/>
<rect class="ic" x="1.5" y="116" width="8" height="7"/>
</g>

<g id="connectors">
<path class="ed" d="M124,312L185,271"/>
<path class="ed" d="M124,395L184,433"/>
<path class="ed" d="M365,310L304,271"/>
<path class="ed" d="M365,395L302,434"/>
<path class="ed" d="M243,290V417"/>
<path class="ed" d="M243,543V682"/>
<path class="ed" d="M124,746H185"/>
<path class="ed" d="M304,746H365"/>
<path class="ed" d="M424,641V682"/>
<path class="ed" d="M482,746H544"/>
<path class="ed" d="M604,684V302"/>
<path class="ed" d="M803,747H663"/>
<path class="ed" d="M964,747H922"/>
<path class="ed" d="M781,514L644,302"/>
<path class="ed" d="M765,240H662"/>
<path class="ed" d="M823,135V179"/>
<path class="ed" d="M964,73H883"/>
<path class="ed" d="M964,242H883"/>
<path class="ed" d="M823,347V304"/>
<path class="ed" d="M124,945H185"/>
<path class="ed" d="M304,945H365"/>
<path class="ed" d="M243,1204V1006"/>
<path class="ed" d="M304,1215L803,800"/>
<path class="ed" d="M483,881L547,809"/>
<path class="ed" d="M545,1056L484,1005"/>
<path class="ed" d="M574,1050L456,808"/>
<path class="ed" d="M604,1050V809"/>
<path class="ed" d="M667,1114H803"/>
<path class="ed" d="M703,1018L667,1050"/>
<path class="ed" d="M863,1050V809"/>
<path class="ed" d="M964,1161L843,1230"/>
<path class="ed" d="M962,1267H843"/>
<path class="ed" d="M964,1371L843,1303"/>
<path class="ed" d="M725,1294L586,1353"/>
<path class="ed" d="M644,1407L586,1394"/>
<path class="ed" d="M526,1513V1443"/>
<path class="ed" d="M498,1317L273,808"/>
<path class="ed" d="M784,1497L583,1557"/>
<path class="ed" d="M784,1656L583,1596"/>
<path class="ed" d="M842,1539V1612"/>
<path class="ed" d="M964,1541L902,1512"/>
<path class="ed" d="M964,1609L902,1641"/>
<path class="ed" d="M131,1513L214,1329"/>
<path class="ed" d="M243,1513V1329"/>
<path class="ed" d="M356,1513L275,1329"/>
<path class="ed" d="M164,1518L546,1172"/>
</g>
</svg>
